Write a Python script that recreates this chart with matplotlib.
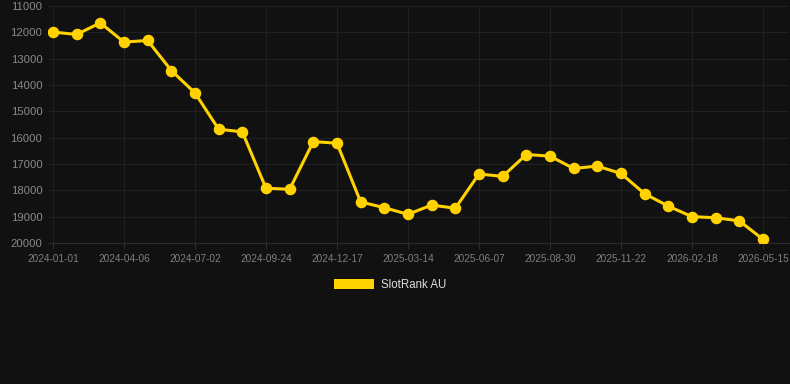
import matplotlib
matplotlib.use("Agg")
import matplotlib.pyplot as plt
from matplotlib.patches import Patch

plt.rcParams['font.family'] = ['Liberation Sans', 'DejaVu Sans']

dates = ["2024-01-01", "2024-02-02", "2024-03-05", "2024-04-06", "2024-05-05", "2024-06-03",
         "2024-07-02", "2024-07-30", "2024-08-27", "2024-09-24", "2024-10-22", "2024-11-19",
         "2024-12-17", "2025-01-15", "2025-02-13", "2025-03-14", "2025-04-11", "2025-05-09",
         "2025-06-07", "2025-07-05", "2025-08-02", "2025-08-30", "2025-09-27", "2025-10-25",
         "2025-11-22", "2025-12-21", "2026-01-19", "2026-02-18", "2026-03-18", "2026-04-16",
         "2026-05-15"]
rank_au = [11990, 12080, 11640, 12370, 12310, 13450, 14300, 15680, 15780, 17920, 17960,
           16150, 16210, 18440, 18660, 18910, 18560, 18680, 17380, 17470, 16640, 16700,
           17170, 17080, 17360, 18130, 18600, 19000, 19040, 19160, 19860]
y_ticks = [11000, 12000, 13000, 14000, 15000, 16000, 17000, 18000, 19000, 20000]
series_name = "SlotRank AU"

bg = "#111111"
gold = "#FFD200"
fig = plt.figure(figsize=(7.9, 3.84), dpi=100, facecolor=bg)
ax = fig.add_axes([48/790, 1-243/384, (789-48)/790, (243-6)/384])
ax.set_facecolor(bg)

x = list(range(len(dates)))
ax.plot(x, rank_au, color=gold, lw=2.2, marker="o", ms=7.3, zorder=3, solid_joinstyle="round")

ax.set_ylim(20000, 11000)
ax.set_xlim(-0.21, 31.1)
ax.set_yticks(y_ticks)
ax.set_yticklabels([str(v) for v in y_ticks])
tick_idx = list(range(0, len(dates), 3))
ax.set_xticks(tick_idx)
ax.set_xticklabels([dates[i] for i in tick_idx])

ax.grid(True, color="#202020", lw=0.8)
ax.set_axisbelow(True)
for s in ["top", "right", "left"]:
    ax.spines[s].set_visible(False)
ax.spines["bottom"].set_color("#2c2c2c")
ax.tick_params(axis="y", length=0, labelsize=8.1, colors="#8a8a8a", pad=4)
ax.tick_params(axis="x", length=4, color="#2c2c2c", labelsize=7.2, labelcolor="#7f7f7f", pad=4)

fig.legend(handles=[Patch(facecolor=gold, edgecolor="none", label=series_name)],
           loc="center", bbox_to_anchor=(390/790, 1-285/384), frameon=False,
           handlelength=3.5, handleheight=1.0, fontsize=8.3, labelcolor="#dddddd",
           handletextpad=0.6)

fig.savefig("out.png", dpi=100, facecolor=bg)
